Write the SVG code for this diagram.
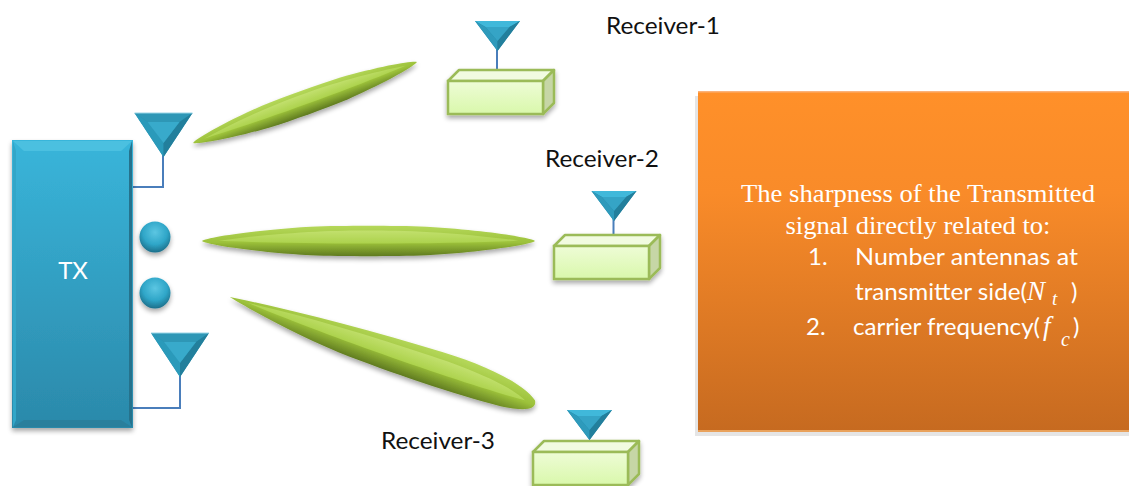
<svg xmlns="http://www.w3.org/2000/svg" xmlns:xlink="http://www.w3.org/1999/xlink" width="1129" height="486" viewBox="0 0 1129 486">
<style>
.lbl{font-family:"Lato","Open Sans",sans-serif;font-size:23px;fill:#111}
.w{font-family:"Lato","Open Sans",sans-serif;font-size:24px;fill:#fff}
.s{font-family:"Liberation Serif",serif;font-size:24.5px;fill:#fff;text-anchor:middle}
.m{font-family:"Liberation Serif",serif;font-style:italic;fill:#fff}
.wire{fill:none;stroke:#4a7ebb;stroke-width:2}
.box-f{fill:url(#boxG);stroke:#9bbb59;stroke-width:2.500}
.box-t{fill:#f1fbe0;stroke:#9bbb59;stroke-width:2.500;stroke-linejoin:round}
.box-r{fill:#c6d6a6;stroke:#9bbb59;stroke-width:2.500;stroke-linejoin:round}
</style>
<defs>
<linearGradient id="txG" x1="0" y1="0" x2="0" y2="1"><stop offset="0" stop-color="#39b5da"/><stop offset="1" stop-color="#2b89aa"/></linearGradient>
<linearGradient id="orG" x1="0" y1="0" x2="0" y2="1"><stop offset="0" stop-color="#ff9029"/><stop offset="0.3" stop-color="#f98b29"/><stop offset="1" stop-color="#c66a20"/></linearGradient>
<linearGradient id="boxG" x1="0" y1="0" x2="0" y2="1"><stop offset="0" stop-color="#eefcd6"/><stop offset="1" stop-color="#d9f8ab"/></linearGradient>
<linearGradient id="lensG" x1="0" y1="0" x2="0" y2="1"><stop offset="0" stop-color="#b5d85a"/><stop offset="0.55" stop-color="#9cc13a"/><stop offset="1" stop-color="#5f7a20"/></linearGradient>
<linearGradient id="lensH" x1="0" y1="0" x2="0" y2="1"><stop offset="0" stop-color="#c2e06e"/><stop offset="1" stop-color="#acd24c"/></linearGradient>
<radialGradient id="sph" cx="0.5" cy="0.35" r="0.65"><stop offset="0" stop-color="#5cc6e2"/><stop offset="0.6" stop-color="#2fa6c8"/><stop offset="1" stop-color="#1d6f8a"/></radialGradient>
<filter id="sh" x="-20%" y="-30%" width="140%" height="170%"><feGaussianBlur in="SourceGraphic" stdDeviation="0.5" result="g"/><feGaussianBlur in="SourceAlpha" stdDeviation="2.500"/><feOffset dx="0" dy="3"/><feComponentTransfer><feFuncA type="linear" slope="0.35"/></feComponentTransfer><feMerge><feMergeNode/><feMergeNode in="g"/></feMerge></filter>
<filter id="soft" x="-10%" y="-10%" width="120%" height="120%"><feGaussianBlur stdDeviation="0.7"/></filter>
<g id="ant" filter="url(#soft)">
<polygon points="-29,0 29,0 0,44" fill="#2a90b0"/>
<polygon points="-29,0 29,0 16,9 -16,9" fill="#2d97b6"/>
<polygon points="-29,0 -16,9 0,30 0,44" fill="#2c9aba"/>
<polygon points="29,0 16,9 0,30 0,44" fill="#237f9c"/>
<polygon points="-16,9 16,9 0,30" fill="#37aacb"/>
<line x1="-29" y1="0" x2="29" y2="0" stroke="#9ad5e6" stroke-width="1"/>
</g>
<g id="antS" filter="url(#soft)">
<polygon points="-22.500,0 22.500,0 0,30" fill="#2486a6"/>
<polygon points="-22.500,0 22.500,0 12,6 -12,6" fill="#41b8da"/>
<polygon points="-22.500,0 -12,6 0,20 0,30" fill="#2d9abb"/>
<polygon points="22.500,0 12,6 0,20 0,30" fill="#237f9c"/>
<polygon points="-12,6 12,6 0,20" fill="#35a4c6"/>
</g>
<g id="lens">
<path d="M-1,0C-.98,-.2 -.72,-.68 -.35,-.92C-.15,-1 .15,-1 .35,-.92C.72,-.68 .98,-.2 1,0C.98,.2 .72,.68 .35,.92C.15,1 -.15,1 -.35,.92C-.72,.68 -.98,.2 -1,0Z" fill="url(#lensG)"/>
<path d="M-.9,-.02C-.5,-.6 -.2,-.68 0,-.68C.2,-.68 .5,-.6 .9,-.02C.4,.22 -.4,.22 -.9,-.02Z" fill="url(#lensH)"/>
</g>
<g id="lensB">
<path d="M-1,0C-.6,-.42 -.1,-.76 .35,-.9C.65,-1 .9,-.75 .99,-.2C1.02,.2 .95,.45 .8,.6C.5,.8 .1,.85 -.25,.76C-.55,.62 -.85,.25 -1,0Z" fill="url(#lensG)"/>
<path d="M-.88,-.02C-.5,-.35 -.1,-.5 .3,-.55C.6,-.6 .85,-.4 .93,-.05C.5,.2 -.4,.2 -.88,-.02Z" fill="url(#lensH)"/>
</g>
<g id="rcv">
<polygon class="box-t" points="0,11 11,0 106,0 95,11"/>
<polygon class="box-r" points="95,11 106,0 106,33 95,44"/>
<rect class="box-f" x="0" y="11" width="95" height="33"/>
</g>
</defs>

<g id="connectors">
<polyline class="wire" points="133,187 163,187 163,155"/>
<polyline class="wire" points="133,408 180,408 180,376"/>
<line class="wire" x1="497" y1="48" x2="497" y2="70"/>
<line class="wire" x1="613.500" y1="218" x2="613.500" y2="235"/>
</g>

<g id="tx">
<g filter="url(#sh)">
<rect x="12" y="140" width="121" height="288" fill="url(#txG)"/>
</g>
<g filter="url(#soft)">
<polygon points="13,141 132,141 121,151 24,151" fill="#4cc0e0"/>
<polygon points="13,427 132,427 121,420 24,420" fill="#2b7f9c"/>
<polygon points="132,141 132,427 129,420 129,151" fill="#27728c"/>
<polygon points="13,141 13,427 16,420 16,151" fill="#33a6c8"/>
</g>
<text class="w" x="73" y="279" text-anchor="middle" font-size="25">TX</text>
</g>

<g id="tx-antenna-1"><use xlink:href="#ant" href="#ant" transform="translate(163.500,113)"/></g>
<g id="tx-antenna-2"><use xlink:href="#ant" href="#ant" transform="translate(180,333)"/></g>
<g id="dot-1"><circle cx="155" cy="237" r="15.500" fill="url(#sph)" filter="url(#sh)"/></g>
<g id="dot-2"><circle cx="155" cy="293" r="15.500" fill="url(#sph)" filter="url(#sh)"/></g>

<g id="beam-1" filter="url(#sh)"><use xlink:href="#lens" href="#lens" transform="translate(305,102.500) rotate(-19.900) scale(119,12.500)"/></g>
<g id="beam-2" filter="url(#sh)"><use xlink:href="#lens" href="#lens" transform="translate(368.500,241) scale(166.500,15.500)"/></g>
<g id="beam-3" filter="url(#sh)"><use xlink:href="#lensB" href="#lensB" transform="translate(382.500,351) rotate(19.500) scale(162,21)"/></g>

<g id="receiver-1">
<use xlink:href="#rcv" href="#rcv" transform="translate(448,70)" filter="url(#sh)"/>
<use xlink:href="#antS" href="#antS" transform="translate(497.500,21)"/>
<text class="lbl" x="606" y="34" textLength="114" lengthAdjust="spacingAndGlyphs">Receiver-1</text>
</g>
<g id="receiver-2">
<use xlink:href="#rcv" href="#rcv" transform="translate(554,235)" filter="url(#sh)"/>
<use xlink:href="#antS" href="#antS" transform="translate(614,191)"/>
<text class="lbl" x="545" y="167" textLength="114" lengthAdjust="spacingAndGlyphs">Receiver-2</text>
</g>
<g id="receiver-3">
<use xlink:href="#rcv" href="#rcv" transform="translate(533,441)" filter="url(#sh)"/>
<use xlink:href="#antS" href="#antS" transform="translate(589.500,410)"/>
<text class="lbl" x="381" y="449" textLength="114" lengthAdjust="spacingAndGlyphs">Receiver-3</text>
</g>

<g id="note">
<rect x="695" y="96" width="434" height="340" fill="#000" opacity="0.1"/>
<rect x="698" y="91" width="431" height="341" fill="url(#orG)"/>
<rect x="698" y="91" width="431" height="1.500" fill="#fbb27a"/>
<rect x="698" y="430" width="431" height="2" fill="#e9a25c"/>
<text class="s" x="918" y="202" textLength="354" lengthAdjust="spacingAndGlyphs">The sharpness of the Transmitted</text>
<text class="s" x="918" y="234" textLength="265" lengthAdjust="spacingAndGlyphs">signal directly related to:</text>
<text class="w" x="808" y="265">1.</text>
<text class="w" x="855" y="265" textLength="223" lengthAdjust="spacingAndGlyphs">Number antennas at</text>
<text class="w" x="855" y="300" textLength="172" lengthAdjust="spacingAndGlyphs">transmitter side(</text>
<text class="m" x="1027" y="300" font-size="27">N</text>
<text class="m" x="1052" y="305" font-size="19">t</text>
<text class="w" x="1071" y="300">)</text>
<text class="w" x="806" y="335">2.</text>
<text class="w" x="853" y="335" textLength="187" lengthAdjust="spacingAndGlyphs">carrier frequency(</text>
<text class="m" x="1043" y="335" font-size="27">f</text>
<text class="m" x="1061" y="346" font-size="20">c</text>
<text class="w" x="1073" y="335">)</text>
</g>
</svg>
